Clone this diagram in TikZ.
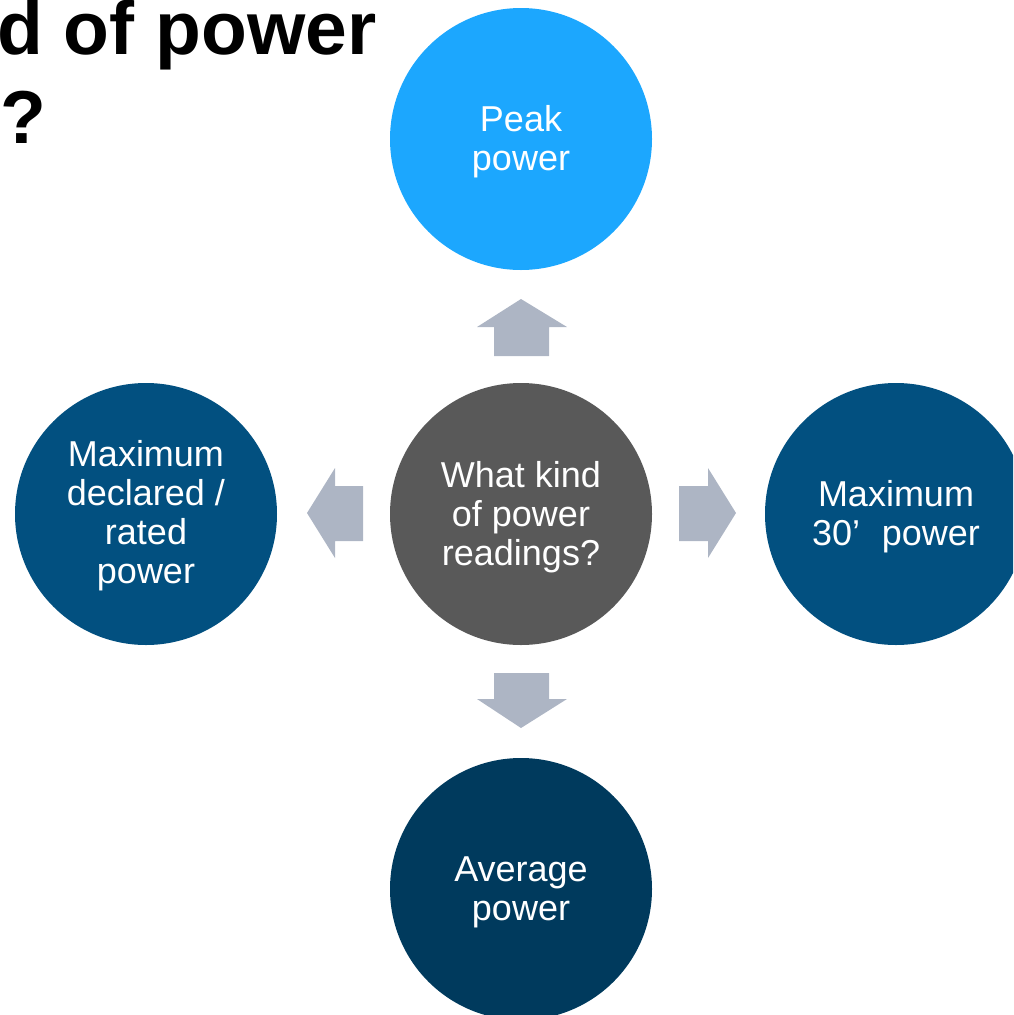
\documentclass[tikz,border=0pt]{standalone}
\usepackage{fontspec}
\setmainfont{Liberation Sans}
\definecolor{peakblue}{HTML}{1CA7FE}
\definecolor{midblue}{HTML}{025080}
\definecolor{darkblue}{HTML}{003A5D}
\definecolor{centergrey}{HTML}{595959}
\definecolor{arrowgrey}{HTML}{ADB5C4}
\begin{document}
\begin{tikzpicture}[x=1pt,y=-1pt,
  bubble/.style={circle,minimum size=262pt,inner sep=0pt},
  bubbletext/.style={text=white,align=center,inner sep=0pt,
    font=\fontsize{36}{39}\selectfont},
  blockarrow/.style={fill=arrowgrey},
  titletext/.style={font=\bfseries\fontsize{75}{89}\selectfont,anchor=base west,inner sep=0pt}]
\useasboundingbox (0,0) rectangle (1013,1015);
\begin{scope}
\clip (0,0) rectangle (1013,1015);
\node[titletext] (title1) at (-3,54) {d of power};
\node[titletext] (title2) at (0,143) {?};
\node[bubble,fill=centergrey] (center) at (521,514) {};
\node[bubble,fill=peakblue] (peak) at (521,139) {};
\node[bubble,fill=darkblue] (avg) at (521,889) {};
\node[bubble,fill=midblue] (rated) at (146,514) {};
\node[bubble,fill=midblue] (max30) at (896,514) {};
\node[bubbletext] (centerlabel) at ([yshift=-3pt]center.center) {What kind\\of power\\readings?};
\node[bubbletext] (peaklabel) at ([yshift=-3pt]peak.center) {Peak\\power};
\node[bubbletext] (avglabel) at ([yshift=-3pt]avg.center) {Average\\power};
\node[bubbletext] (ratedlabel) at ([yshift=-2pt]rated.center) {Maximum\\declared /\\rated\\power};
\node[bubbletext] (max30label) at ([yshift=-3pt]max30.center) {Maximum\\30’\hspace{0.6em}power};
% block arrows
\fill[blockarrow] (494,356) -- (494,327) -- (477,327) -- (521,299) -- (567,327) -- (549,327) -- (549,356) -- cycle;
\fill[blockarrow] (494,673) -- (494,699) -- (477,699) -- (521,728) -- (567,699) -- (549,699) -- (549,673) -- cycle;
\fill[blockarrow] (363,486) -- (335,486) -- (335,468) -- (307,513) -- (335,558) -- (335,541) -- (363,541) -- cycle;
\fill[blockarrow] (679,486) -- (708,486) -- (708,468) -- (736,513) -- (708,558) -- (708,541) -- (679,541) -- cycle;
\end{scope}
\end{tikzpicture}
\end{document}
